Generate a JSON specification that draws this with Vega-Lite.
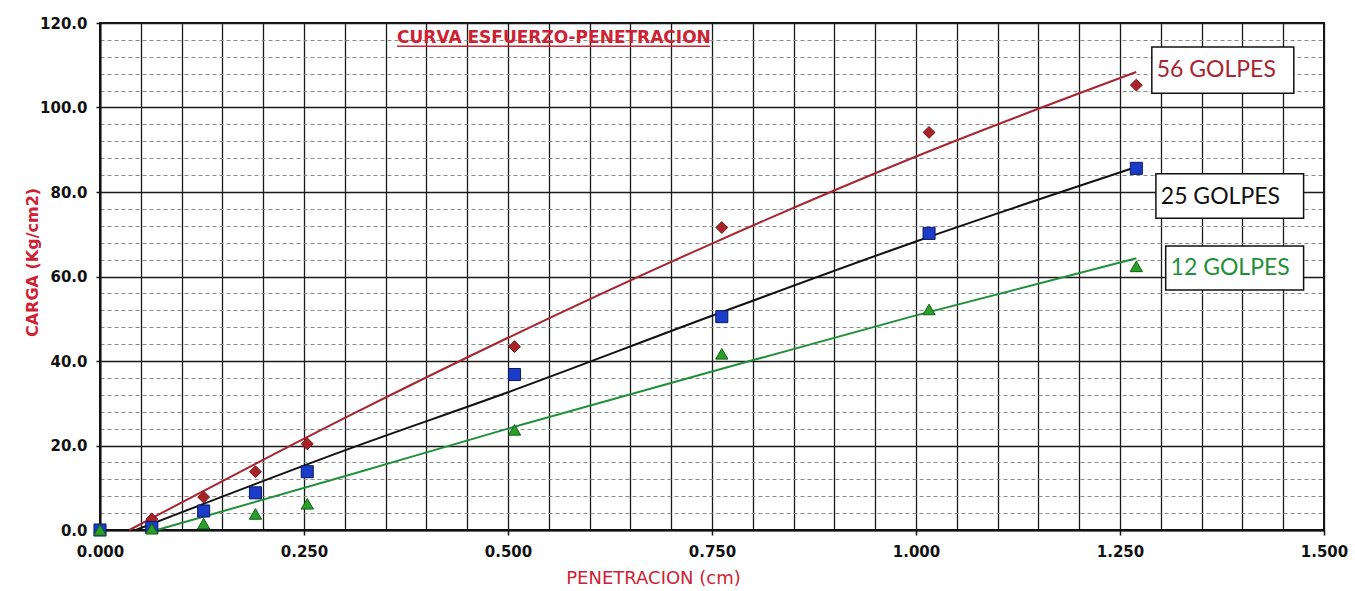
{
  "$schema": "https://vega.github.io/schema/vega-lite/v6.json",
  "width": 1224,
  "height": 507,
  "autosize": {"type": "none"},
  "padding": {"left": 100, "top": 23, "right": 31, "bottom": 61},
  "background": "white",
  "config": {"view": {"stroke": "#111", "strokeWidth": 2}},
  "datasets": {
    "obs": [
      {"serie": "56 GOLPES", "pen": 0, "carga": 0},
      {"serie": "56 GOLPES", "pen": 0.0635, "carga": 2.6},
      {"serie": "56 GOLPES", "pen": 0.127, "carga": 7.8},
      {"serie": "56 GOLPES", "pen": 0.1905, "carga": 13.8},
      {"serie": "56 GOLPES", "pen": 0.254, "carga": 20.4},
      {"serie": "56 GOLPES", "pen": 0.508, "carga": 43.4},
      {"serie": "56 GOLPES", "pen": 0.762, "carga": 71.6},
      {"serie": "56 GOLPES", "pen": 1.016, "carga": 94.1},
      {"serie": "56 GOLPES", "pen": 1.27, "carga": 105.3},
      {"serie": "25 GOLPES", "pen": 0, "carga": 0},
      {"serie": "25 GOLPES", "pen": 0.0635, "carga": 0.6},
      {"serie": "25 GOLPES", "pen": 0.127, "carga": 4.5},
      {"serie": "25 GOLPES", "pen": 0.1905, "carga": 8.8},
      {"serie": "25 GOLPES", "pen": 0.254, "carga": 13.8},
      {"serie": "25 GOLPES", "pen": 0.508, "carga": 36.8},
      {"serie": "25 GOLPES", "pen": 0.762, "carga": 50.5},
      {"serie": "25 GOLPES", "pen": 1.016, "carga": 70.2},
      {"serie": "25 GOLPES", "pen": 1.27, "carga": 85.6},
      {"serie": "12 GOLPES", "pen": 0, "carga": 0},
      {"serie": "12 GOLPES", "pen": 0.0635, "carga": 0.3},
      {"serie": "12 GOLPES", "pen": 0.127, "carga": 1.5},
      {"serie": "12 GOLPES", "pen": 0.1905, "carga": 3.8},
      {"serie": "12 GOLPES", "pen": 0.254, "carga": 6.2},
      {"serie": "12 GOLPES", "pen": 0.508, "carga": 23.7},
      {"serie": "12 GOLPES", "pen": 0.762, "carga": 41.7},
      {"serie": "12 GOLPES", "pen": 1.016, "carga": 52.2},
      {"serie": "12 GOLPES", "pen": 1.27, "carga": 62.4}
    ],
    "trend": [
      {"serie": "56 GOLPES", "pen": 0.036, "carga": 0},
      {"serie": "56 GOLPES", "pen": 0.305, "carga": 27},
      {"serie": "56 GOLPES", "pen": 0.5, "carga": 45.5},
      {"serie": "56 GOLPES", "pen": 0.75, "carga": 67.8},
      {"serie": "56 GOLPES", "pen": 1.0, "carga": 88.4},
      {"serie": "56 GOLPES", "pen": 1.27, "carga": 108.4},
      {"serie": "25 GOLPES", "pen": 0.044, "carga": 0},
      {"serie": "25 GOLPES", "pen": 0.305, "carga": 19.2},
      {"serie": "25 GOLPES", "pen": 0.5, "carga": 32.6},
      {"serie": "25 GOLPES", "pen": 0.75, "carga": 50.7},
      {"serie": "25 GOLPES", "pen": 1.0, "carga": 68.3},
      {"serie": "25 GOLPES", "pen": 1.27, "carga": 85.9},
      {"serie": "12 GOLPES", "pen": 0.07, "carga": 0},
      {"serie": "12 GOLPES", "pen": 0.305, "carga": 13},
      {"serie": "12 GOLPES", "pen": 0.5, "carga": 24},
      {"serie": "12 GOLPES", "pen": 0.75, "carga": 37.5},
      {"serie": "12 GOLPES", "pen": 1.0, "carga": 50.8},
      {"serie": "12 GOLPES", "pen": 1.27, "carga": 64.3}
    ],
    "labels": [
      {"serie": "56 GOLPES", "pen": 1.289, "pen2": 1.463, "carga": 103.4, "carga2": 114.3, "tx": 1.295, "ty": 108.9},
      {"serie": "25 GOLPES", "pen": 1.294, "pen2": 1.475, "carga": 73.8, "carga2": 84.3, "tx": 1.3, "ty": 78.8},
      {"serie": "12 GOLPES", "pen": 1.306, "pen2": 1.475, "carga": 56.8, "carga2": 67.2, "tx": 1.312, "ty": 62.0}
    ],
    "heading": [
      {"text": "CURVA ESFUERZO-PENETRACION", "pen": 0.364, "pen2": 0.7475, "carga": 115.2, "yu": 114.5}
    ]
  },
  "encoding": {
    "x": {
      "field": "pen", "type": "quantitative",
      "scale": {"domain": [0, 1.5], "nice": false, "zero": false},
      "axis": {
        "title": "PENETRACION (cm)",
        "values": [0, 0.05, 0.1, 0.15, 0.2, 0.25, 0.3, 0.35, 0.4, 0.45, 0.5, 0.55, 0.6, 0.65, 0.7, 0.75, 0.8, 0.85, 0.9, 0.95, 1, 1.05, 1.1, 1.15, 1.2, 1.25, 1.3, 1.35, 1.4, 1.45, 1.5],
        "labelExpr": "round(datum.value*1000) % 250 === 0 ? format(datum.value, '.3f') : ''",
        "labelOverlap": false, "labelFlush": false, "labelBound": false,
        "labelFont": "DejaVu Sans", "labelFontWeight": "bold", "labelFontSize": 15, "labelColor": "#111",
        "labelPadding": 9,
        "tickSize": 5, "tickColor": "#111", "tickWidth": 1.5,
        "tickOpacity": {"condition": {"test": "round(datum.value*1000) % 250 === 0", "value": 1}, "value": 0},
        "grid": true, "gridColor": "#1a1a1a", "gridWidth": 1.3,
        "domain": true, "domainColor": "#111", "domainWidth": 2,
        "titleFont": "DejaVu Sans", "titleFontSize": 18, "titleFontWeight": "normal", "titleColor": "#cc2233",
        "titleX": 553, "titleY": 48, "titleBaseline": "middle", "titleAlign": "center"
      }
    },
    "y": {
      "field": "carga", "type": "quantitative",
      "scale": {"domain": [0, 120], "nice": false},
      "axis": {
        "title": "CARGA  (Kg/cm2)",
        "values": [0, 4, 8, 12, 16, 20, 24, 28, 32, 36, 40, 44, 48, 52, 56, 60, 64, 68, 72, 76, 80, 84, 88, 92, 96, 100, 104, 108, 112, 116, 120],
        "labelExpr": "datum.value % 20 === 0 ? format(datum.value, '.1f') : ''",
        "labelOverlap": false, "labelFlush": false, "labelBound": false,
        "labelFont": "DejaVu Sans", "labelFontWeight": "bold", "labelFontSize": 15, "labelColor": "#111",
        "labelPadding": 9,
        "tickSize": 4, "tickColor": "#111", "tickWidth": 1.5,
        "tickOpacity": {"condition": {"test": "datum.value % 20 === 0", "value": 1}, "value": 0},
        "grid": true,
        "gridColor": {"condition": {"test": "datum.value % 20 === 0", "value": "#1a1a1a"}, "value": "#8a8a8a"},
        "gridWidth": {"condition": {"test": "datum.value % 20 === 0", "value": 1.5}, "value": 1},
        "gridDash": {"condition": {"test": "datum.value % 20 === 0", "value": []}, "value": [4, 3]},
        "domain": true, "domainColor": "#111", "domainWidth": 2,
        "titleFont": "DejaVu Sans", "titleFontSize": 16, "titleFontWeight": "bold", "titleColor": "#cc2233",
        "titleX": -68, "titleY": 239, "titleBaseline": "middle", "titleAlign": "center", "titleAngle": -90
      }
    }
  },
  "layer": [
    {
      "data": {"name": "trend"},
      "mark": {"type": "line", "interpolate": "monotone", "strokeWidth": 2},
      "encoding": {
        "color": {
          "field": "serie", "type": "nominal",
          "scale": {"domain": ["56 GOLPES", "25 GOLPES", "12 GOLPES"], "range": ["#a8252f", "#111111", "#1f8f3a"]},
          "legend": null
        }
      }
    },
    {
      "data": {"name": "obs"},
      "mark": {"type": "point", "filled": true, "strokeWidth": 1, "opacity": 1},
      "encoding": {
        "shape": {
          "field": "serie", "type": "nominal",
          "scale": {"domain": ["56 GOLPES", "25 GOLPES", "12 GOLPES"], "range": ["diamond", "square", "triangle-up"]},
          "legend": null
        },
        "fill": {
          "field": "serie", "type": "nominal",
          "scale": {"domain": ["56 GOLPES", "25 GOLPES", "12 GOLPES"], "range": ["#a82228", "#1a3cc8", "#2aa02a"]},
          "legend": null
        },
        "stroke": {
          "field": "serie", "type": "nominal",
          "scale": {"domain": ["56 GOLPES", "25 GOLPES", "12 GOLPES"], "range": ["#6e1414", "#0a1a5a", "#106010"]},
          "legend": null
        },
        "size": {
          "field": "serie", "type": "nominal",
          "scale": {"domain": ["56 GOLPES", "25 GOLPES", "12 GOLPES"], "range": [140, 150, 130]},
          "legend": null
        }
      }
    },
    {
      "data": {"name": "labels"},
      "mark": {"type": "rect", "fill": "white", "stroke": "#111", "strokeWidth": 1.5},
      "encoding": {
        "x2": {"field": "pen2"},
        "y2": {"field": "carga2"}
      }
    },
    {
      "data": {"name": "labels"},
      "mark": {"type": "text", "align": "left", "baseline": "middle", "font": "Lato", "fontSize": 23},
      "encoding": {
        "x": {"field": "tx", "type": "quantitative"},
        "y": {"field": "ty", "type": "quantitative"},
        "text": {"field": "serie"},
        "color": {
          "field": "serie", "type": "nominal",
          "scale": {"domain": ["56 GOLPES", "25 GOLPES", "12 GOLPES"], "range": ["#cc1a33", "#111111", "#1e6b30"]},
          "legend": null
        }
      }
    },
    {
      "data": {"name": "heading"},
      "mark": {"type": "text", "align": "left", "baseline": "alphabetic", "font": "DejaVu Sans", "fontWeight": "bold", "fontSize": 17, "color": "#cc2233"},
      "encoding": {
        "text": {"field": "text"}
      }
    },
    {
      "data": {"name": "heading"},
      "mark": {"type": "rule", "color": "#cc2233", "strokeWidth": 1.5},
      "encoding": {
        "x2": {"field": "pen2"},
        "y": {"field": "yu", "type": "quantitative"}
      }
    }
  ]
}
